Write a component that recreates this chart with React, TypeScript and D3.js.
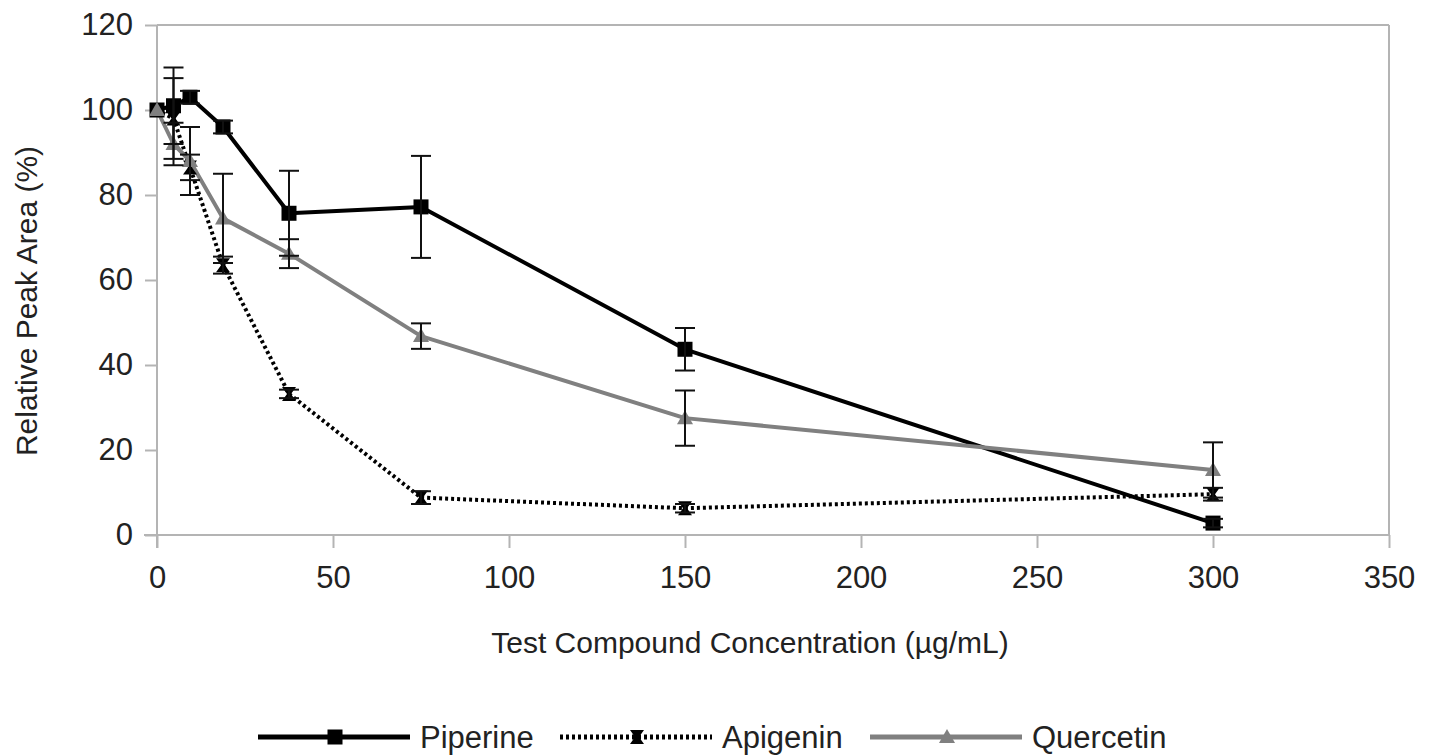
import React, { useRef, useEffect } from 'react';
import * as d3 from "d3";

const width = 1437;
const height = 756;
const margin = ({top: 25, right: 48, bottom: 221, left: 157});

// concentrations in µg/mL
const concentrations = [0, 4.6875, 9.375, 18.75, 37.5, 75, 150, 300];

const piperine = [100, 101, 103, 96, 75.7, 77.2, 43.7, 2.8];
const piperineErr = [0, 9, 1.5, 1.5, 10, 12, 5, 1];

const apigenin = [100, 98, 86.5, 63.5, 33.2, 8.8, 6.3, 9.6];
const apigeninErr = [0, 9.5, 3, 2, 1, 1.5, 1, 1.5];

const quercetin = [100, 92, 88, 74.5, 66.2, 46.8, 27.5, 15.3];
const quercetinErr = [0, 5, 8, 10.5, 3.4, 3, 6.5, 6.5];

const xTicks = [0, 50, 100, 150, 200, 250, 300, 350];
const yTicks = [0, 20, 40, 60, 80, 100, 120];

const font = "'Liberation Sans', Arial, sans-serif";
const axisGray = "#b4b4b4";
const textColor = "#222";

function symbol(g, type, x, y, color) {
    if (type === "square") {
        g.append("rect")
            .attr("x", x - 7.5).attr("y", y - 7.5)
            .attr("width", 15).attr("height", 15)
            .attr("fill", color);
    } else if (type === "triangle") {
        g.append("path")
            .attr("d", `M${x},${y - 8}L${x + 8},${y + 6}L${x - 8},${y + 6}Z`)
            .attr("fill", color);
    } else {
        // hourglass
        g.append("path")
            .attr("d", `M${x - 7},${y - 7}L${x + 7},${y - 7}L${x + 2},${y}L${x + 7},${y + 7}L${x - 7},${y + 7}L${x - 2},${y}Z`)
            .attr("fill", color);
    }
}

export default function App() {
    const d3Container = useRef(null);

    useEffect(() => {
        if (!d3Container.current) return;
        const svg = d3.select(d3Container.current);
        svg.selectAll("*").remove();

        const x = d3.scaleLinear()
            .domain([0, 350])
            .range([margin.left, width - margin.right]);
        const y = d3.scaleLinear()
            .domain([0, 120])
            .range([height - margin.bottom, margin.top]);

        const x0 = x(0), x1 = x(350), y0 = y(0), y1 = y(120);

        // frame
        const frame = svg.append("g").attr("stroke", axisGray).attr("stroke-width", 2);
        frame.append("line").attr("x1", x0).attr("x2", x1).attr("y1", y1).attr("y2", y1);
        frame.append("line").attr("x1", x1).attr("x2", x1).attr("y1", y1).attr("y2", y0);

        // y axis
        svg.append("g")
            .attr("transform", `translate(${x0},0)`)
            .call(d3.axisLeft(y).tickValues(yTicks).tickSize(12).tickPadding(12))
            .call(g => g.selectAll("line, path").attr("stroke", axisGray).attr("stroke-width", 2))
            .call(g => g.select(".domain").attr("d", `M0,${y1}V${y0 + 13}`))
            .call(g => g.selectAll("text")
                .attr("font-family", font).attr("font-size", 31).attr("fill", textColor));

        // x axis
        svg.append("g")
            .attr("transform", `translate(0,${y0})`)
            .call(d3.axisBottom(x).tickValues(xTicks).tickSize(13).tickPadding(18))
            .call(g => g.selectAll("line, path").attr("stroke", axisGray).attr("stroke-width", 2))
            .call(g => g.select(".domain").attr("d", `M${x0 - 13},0H${x1}`))
            .call(g => g.selectAll("text")
                .attr("font-family", font).attr("font-size", 31).attr("fill", textColor));

        // axis titles
        svg.append("text")
            .attr("x", 750).attr("y", 653)
            .attr("text-anchor", "middle")
            .attr("font-family", font).attr("font-size", 30).attr("fill", textColor)
            .text("Test Compound Concentration (µg/mL)");
        svg.append("text")
            .attr("transform", `translate(37,${301}) rotate(-90)`)
            .attr("text-anchor", "middle")
            .attr("font-family", font).attr("font-size", 30).attr("fill", textColor)
            .text("Relative Peak Area (%)");

        const series = [
            {name: "Piperine", values: piperine, err: piperineErr, color: "#000", width: 4, dash: null, marker: "square"},
            {name: "Apigenin", values: apigenin, err: apigeninErr, color: "#000", width: 4, dash: "3,3", marker: "hourglass"},
            {name: "Quercetin", values: quercetin, err: quercetinErr, color: "#808080", width: 4, dash: null, marker: "triangle"},
        ];

        const line = d3.line()
            .x(d => x(d[0]))
            .y(d => y(d[1]));

        const plot = svg.append("g");

        series.forEach(s => {
            const pts = concentrations.map((c, i) => [c, s.values[i]]);
            plot.append("path")
                .datum(pts)
                .attr("fill", "none")
                .attr("stroke", s.color)
                .attr("stroke-width", s.width)
                .attr("stroke-dasharray", s.dash)
                .attr("stroke-linejoin", "round")
                .attr("d", line);
        });

        series.forEach(s => {
            const g = plot.append("g");
            concentrations.forEach((c, i) => {
                symbol(g, s.marker, x(c), y(s.values[i]), s.color);
            });
        });

        // error bars
        series.forEach(s => {
            const g = plot.append("g").attr("stroke", "#111").attr("stroke-width", 2);
            concentrations.forEach((c, i) => {
                if (!s.err[i]) return;
                const cx = x(c);
                const hi = y(s.values[i] + s.err[i]);
                const lo = y(s.values[i] - s.err[i]);
                g.append("line").attr("x1", cx).attr("x2", cx).attr("y1", hi).attr("y2", lo);
                g.append("line").attr("x1", cx - 10).attr("x2", cx + 10).attr("y1", hi).attr("y2", hi);
                g.append("line").attr("x1", cx - 10).attr("x2", cx + 10).attr("y1", lo).attr("y2", lo);
            });
        });

        // legend
        const legendX = [258, 560, 870];
        const ly = 737;
        series.forEach((s, i) => {
            const g = svg.append("g");
            const lx = legendX[i];
            g.append("line")
                .attr("x1", lx).attr("x2", lx + 152)
                .attr("y1", ly).attr("y2", ly)
                .attr("stroke", s.color)
                .attr("stroke-width", s.width + 1)
                .attr("stroke-dasharray", s.dash);
            symbol(g, s.marker, lx + 77, ly, s.color);
            g.append("text")
                .attr("x", lx + 162).attr("y", ly + 11)
                .attr("font-family", font).attr("font-size", 31).attr("fill", textColor)
                .text(s.name);
        });
    }, []);

    return (
        <svg ref={d3Container} width={width} height={height}
            style={{position: "absolute", left: 0, top: 0, background: "#fff"}} />
    );
}
